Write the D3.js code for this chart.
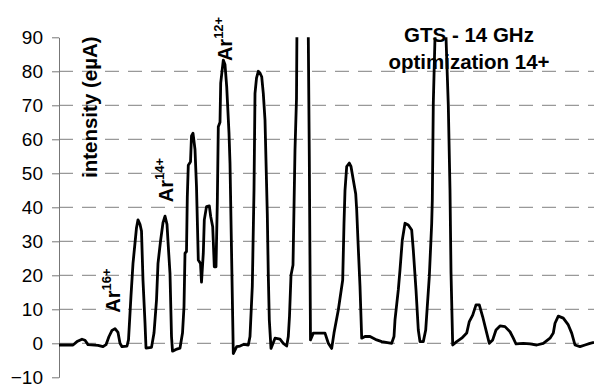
<!DOCTYPE html>
<html>
<head>
<meta charset="utf-8">
<script src="https://cdn.jsdelivr.net/npm/d3@7"></script>
<style>
 body { margin: 0; background: #fff; }
 text { font-family: Arial, "Liberation Sans", sans-serif; }
</style>
</head>
<body>
<script>
// spectrum trace: channel (arbitrary units) and intensity (eµA)
const channel = [0, 14, 18, 23, 26, 29, 39, 44, 47, 50, 53, 56, 59, 61, 63, 68, 69.5, 72, 74, 76, 77.5, 79, 81, 82.5, 84, 86, 87,
 92.5, 95, 97.5, 99, 101.5, 104, 106, 108, 109, 111, 112.5, 113.5, 117, 121, 123.5, 125, 126, 127.5, 128.3, 129.3, 131.5,
 132.5, 134, 136, 137.5, 139.3, 141.5, 142.5, 144.3, 145.3, 147.5, 150.3, 151.7, 153.7, 155.3, 157, 158.3, 159.3, 161,
 161.7, 164.3, 166, 167.7, 170, 171, 172, 174.3, 177.7, 181, 185, 189.3, 191, 193.3, 195, 196, 197.5, 199.3, 201, 202.7,
 204.3, 206, 208.3, 209.3, 210.3, 212, 216, 221, 224.3, 227.7, 229.3, 230.5, 232, 234, 236, 237.5, 239, 243.5, 248,
 249.3, 250.3, 251.5, 254.3, 266, 269.3, 272.7, 275, 279.3, 283.7, 285, 286, 287.7, 290.3, 292, 294.3, 296.7, 297.7, 299,
 301, 302.7, 306, 311, 317.7, 322.7, 332.7, 335, 336, 339.3, 341, 343.3, 346, 349.3, 352.7, 354.3, 357, 359.3, 361,
 364.3, 366.7, 370.3, 372.7, 373.3, 374.3, 376, 380, 382.5, 385, 387, 389.3, 391, 392, 393.7, 397.7, 402.7, 407.7,
 410.3, 413.7, 417, 420.3, 423.7, 427, 430.3, 433.7, 437, 441, 446, 451, 454.3, 457, 464.3, 471, 477.7, 484.3, 491,
 494.3, 496, 499.3, 504.3, 509.3, 512.7, 516, 521, 526, 531, 535];
const intensity = [-0.5, -0.5, 0.5, 1.2, 0.9, -0.4, -0.6, -1.0, -0.4, 2.0, 3.8, 4.3, 3.2, 0.0, -1.0, -0.8, 1, 14, 23.5, 29.5, 34, 36.3, 35, 33, 18.5, 6, -1.4,
 -1.2, 3, 12.7, 23.5, 30, 35.5, 37.4, 35, 30, 20.5, 2, -2.3, -1.8, -1.4, 3, 10.8, 26.5, 27, 43, 52.4, 53.4,
 61, 61.8, 57, 46, 24.5, 23.5, 18, 26.5, 36.3, 40.2, 40.4, 37.3, 34.3, 22.5, 22.5, 41.2, 63.7, 65,
 76.5, 83.3, 82, 75.5, 61.8, 53, 36, -3, -1, -0.8, -0.3, -0.5, 2, 16.7, 45, 73.5, 78, 80, 79.5, 78.4,
 73.5, 65.7, 38, 20, 6.9, -1.5, 1.5, 1.2, 0, -0.8, 2, 8, 20, 23, 57, 72, 140, 180, 140,
 90, 55, 1, 3, 3, 0, -1.5, 3, 9.8, 18.6, 35.3, 45, 52, 53, 52, 48, 44, 39.2, 30,
 16.7, 1.5, 2, 2, 1, 0.5, 0, 2, 6.9, 15.7, 21.6, 30.4, 35.3, 34.8, 33.3, 27.4, 15.7, 3.9, 0.5,
 0.5, 3.9, 19.6, 35.3, 42, 70.6, 90, 150, 170, 150, 90, 70, 45, 21, -0.5, 0.5, 1.5, 3,
 6.4, 8.3, 11.3, 11.3, 7.8, 3.9, 0, 1, 3.9, 5.1, 4.9, 3.4, 1.5, -0.2, 0, -0.2, -0.5, 0, 1.5,
 3, 5.9, 8, 7.4, 5.4, 3, -0.5, -1, -0.5, 0, 0.3];

const yTicks = [-10, 0, 10, 20, 30, 40, 50, 60, 70, 80, 90];
const gridValues = [0, 10, 20, 30, 40, 50, 60, 70, 80];

// peak labels: ion, charge, channel, intensity where the label starts
const peakIons = ["Ar", "Ar", "Ar"];
const peakCharges = ["16+", "14+", "12+"];
const peakChannels = [61, 114, 173];
const peakLevels = [9, 41.5, 83];

const titleLines = ["GTS - 14 GHz", "optimization 14+"];
const yTitle = "intensity (eµA)";

const width = 594, height = 386;
const plotLeft = 59, plotRight = 594, plotTop = 37.3, plotBottom = 377.3;

const svg = d3.select("body").append("svg")
 .attr("width", width)
 .attr("height", height);

const x = d3.scaleLinear().domain([0, 535]).range([plotLeft, plotRight]);
const y = d3.scaleLinear().domain([-10, 90]).range([plotBottom, plotTop]);

// dashed gridlines
svg.append("g")
 .selectAll("line")
 .data(gridValues)
 .join("line")
 .attr("x1", plotLeft)
 .attr("x2", plotRight)
 .attr("y1", d => y(d))
 .attr("y2", d => y(d))
 .attr("stroke", "#999")
 .attr("stroke-width", 1.3)
 .attr("stroke-dasharray", "14,9");

// y axis
const yAxis = svg.append("g")
 .attr("transform", "translate(" + plotLeft + ",0)")
 .call(d3.axisLeft(y).tickValues(yTicks).tickSize(7).tickPadding(9).tickSizeOuter(0));
yAxis.select(".domain").attr("stroke", "#777");
yAxis.selectAll(".tick line").attr("stroke", "#777");
yAxis.selectAll(".tick text")
 .attr("font-size", 19)
 .attr("fill", "#000")
 .attr("font-family", "Arial, 'Liberation Sans', sans-serif");

// clip the trace to the plot area
svg.append("clipPath").attr("id", "plot")
 .append("rect")
 .attr("x", plotLeft).attr("y", plotTop)
 .attr("width", plotRight - plotLeft).attr("height", plotBottom - plotTop);

const line = d3.line()
 .x((d, i) => x(channel[i]))
 .y(d => y(d));

svg.append("path")
 .datum(intensity)
 .attr("clip-path", "url(#plot)")
 .attr("fill", "none")
 .attr("stroke", "#000")
 .attr("stroke-width", 2.8)
 .attr("stroke-linejoin", "round")
 .attr("d", line);

// y title
svg.append("text")
 .attr("transform", "translate(97,178) rotate(-90)")
 .attr("font-size", 20.5)
 .attr("font-weight", "bold")
 .text(yTitle);

// peak labels
peakIons.forEach((ion, i) => {
 const t = svg.append("text")
  .attr("transform", "translate(" + x(peakChannels[i]) + "," + y(peakLevels[i]) + ") rotate(-90)")
  .attr("font-size", 20)
  .attr("font-weight", "bold");
 t.append("tspan").text(ion);
 t.append("tspan").attr("dy", -9).attr("font-size", 13).text(peakCharges[i]);
});

// title in the upper right
svg.append("g")
 .selectAll("text")
 .data(titleLines)
 .join("text")
 .attr("x", 469)
 .attr("y", (d, i) => 42 + i * 27)
 .attr("text-anchor", "middle")
 .attr("font-size", 20.5)
 .attr("font-weight", "bold")
 .text(d => d);
</script>
</body>
</html>
